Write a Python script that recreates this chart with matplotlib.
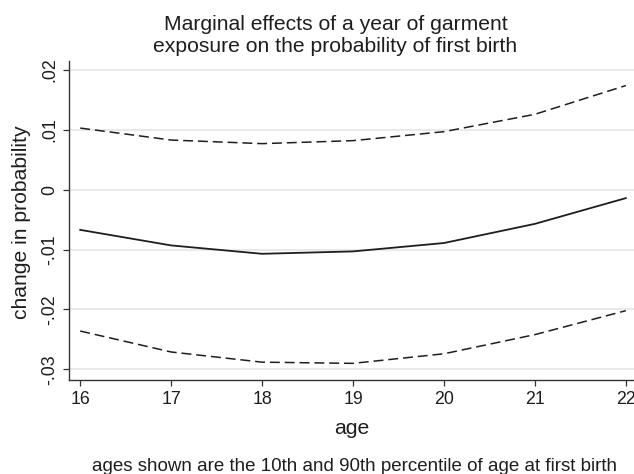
import matplotlib
matplotlib.use("Agg")
import matplotlib.pyplot as plt

# marginal effect of a year of garment exposure, with 95% bounds
ages = [16, 17, 18, 19, 20, 21, 22]
effect = [-0.0067, -0.0093, -0.0107, -0.0103, -0.0089, -0.0057, -0.0014]
upper = [0.0103, 0.0083, 0.0077, 0.0082, 0.0097, 0.0126, 0.0174]
lower = [-0.0236, -0.0271, -0.0288, -0.0290, -0.0274, -0.0242, -0.0202]

y_ticks = [0.02, 0.01, 0.0, -0.01, -0.02, -0.03]
y_tick_labels = [".02", ".01", "0", "-.01", "-.02", "-.03"]

plt.rcParams["font.family"] = ["Liberation Sans", "DejaVu Sans"]

ink = "#1e1e1e"
W, H = 634, 474

fig = plt.figure(figsize=(W / 100, H / 100), dpi=100)
ax = fig.add_axes([0.1093, 0.1983, 0.8907, 0.6736])

ax.plot(ages, effect, color=ink, linewidth=1.3, solid_joinstyle="round")
ax.plot(ages, upper, color=ink, linewidth=1.1, linestyle=(0, (6.5, 3.2)))
ax.plot(ages, lower, color=ink, linewidth=1.1, linestyle=(0, (6.5, 3.2)))

ax.set_xlim(15.88, 22.09)
ax.set_ylim(-0.03178, 0.02155)

ax.set_xticks(ages)
ax.set_yticks(y_ticks)
ax.set_yticklabels(y_tick_labels, rotation=90, va="center")

ax.grid(axis="y", color="#e9e9e9", linewidth=1.4)
ax.set_axisbelow(True)

for side in ["top", "right"]:
    ax.spines[side].set_visible(False)
for side in ["left", "bottom"]:
    ax.spines[side].set_color("#333333")
    ax.spines[side].set_linewidth(1.0)

ax.tick_params(axis="both", length=4.5, width=0.9, color="#333333",
               labelsize=12.8, labelcolor=ink, pad=3.5)

# axis titles, title and note placed in pixel terms
fig.text(27 / W, 1 - 222 / H, "change in probability", rotation=90,
         rotation_mode="anchor", ha="center", va="baseline",
         fontsize=15.2, color=ink)
fig.text(352 / W, 1 - 434 / H, "age", ha="center", va="baseline",
         fontsize=15.2, color=ink)

fig.text(335.5 / W, 1 - 30 / H, "Marginal effects of a year of garment",
         ha="center", va="baseline", fontsize=15.2, color=ink)
fig.text(335.5 / W, 1 - 52 / H, "exposure on the probability of first birth",
         ha="center", va="baseline", fontsize=15.2, color=ink)

fig.text(354 / W, 1 - 471 / H,
         "ages shown are the 10th and 90th percentile of age at first birth",
         ha="center", va="baseline", fontsize=13.5, color=ink)

fig.savefig("out.png", dpi=100)
